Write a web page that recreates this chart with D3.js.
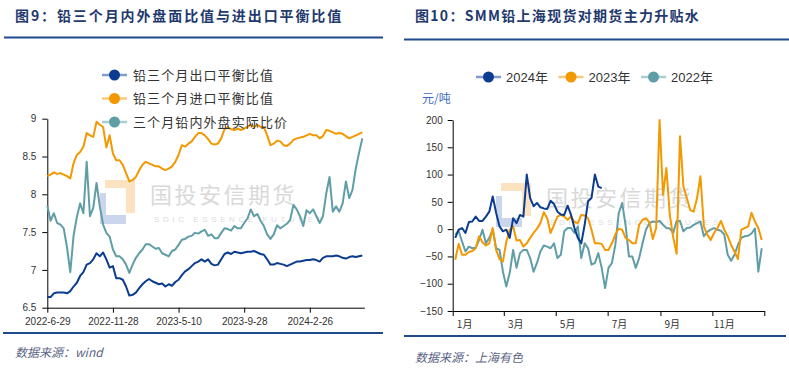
<!DOCTYPE html>
<html lang="zh">
<head>
<meta charset="UTF-8">
<title>铅比值与升贴水</title>
<script src="https://cdn.jsdelivr.net/npm/d3@7.8.5/dist/d3.min.js"></script>
<style>
  body { margin: 0; background: #fff; }
  svg { display: block; }
  .tick text { font-family: "Liberation Sans", Arial, sans-serif; fill: #333; }
</style>
</head>
<body>
<div id="chart"></div>
<script>
// ---------- 图9 数据 ----------
const leftTickLabels = ['2022-6-29', '2022-11-28', '2023-5-10', '2023-9-28', '2024-2-26']
const leftTickIndex = [0, 20, 40, 60, 80]
const exportParity = [
  6.64, 6.64, 6.69, 6.70, 6.70, 6.70, 6.69, 6.72, 6.78, 6.83,
  6.92, 6.97, 7.07, 7.09, 7.14, 7.22, 7.18, 7.23, 7.14, 7.03,
  7.05, 6.89, 6.89, 6.87, 6.78, 6.66, 6.67, 6.70, 6.76, 6.81,
  6.85, 6.88, 6.85, 6.83, 6.81, 6.82, 6.78, 6.81, 6.79, 6.84,
  6.87, 6.93, 6.98, 7.01, 7.05, 7.09, 7.11, 7.14, 7.11, 7.14,
  7.08, 7.06, 7.07, 7.14, 7.21, 7.23, 7.21, 7.24, 7.23, 7.22,
  7.23, 7.24, 7.24, 7.25, 7.23, 7.21, 7.20, 7.14, 7.07, 7.07,
  7.09, 7.08, 7.07, 7.05, 7.07, 7.09, 7.11, 7.11, 7.12, 7.13,
  7.13, 7.14, 7.13, 7.11, 7.16, 7.18, 7.18, 7.18, 7.19, 7.18,
  7.16, 7.15, 7.17, 7.18, 7.17, 7.18, 7.19
]
const importParity = [
  8.24, 8.26, 8.29, 8.27, 8.28, 8.26, 8.24, 8.21, 8.41, 8.52,
  8.56, 8.63, 8.81, 8.78, 8.76, 8.96, 8.92, 8.89, 8.62, 8.78,
  8.54, 8.45, 8.45, 8.39, 8.28, 8.17, 8.19, 8.23, 8.32, 8.39,
  8.43, 8.41, 8.39, 8.37, 8.37, 8.34, 8.32, 8.34, 8.37, 8.43,
  8.52, 8.65, 8.63, 8.67, 8.70, 8.76, 8.81, 8.81, 8.78, 8.73,
  8.67, 8.66, 8.67, 8.74, 8.86, 8.89, 8.86, 8.85, 8.87, 8.85,
  8.87, 8.89, 8.92, 8.89, 8.92, 8.89, 8.89, 8.78, 8.65, 8.67,
  8.71, 8.70, 8.65, 8.64, 8.67, 8.72, 8.74, 8.75, 8.76, 8.78,
  8.80, 8.78, 8.78, 8.74, 8.77, 8.85, 8.84, 8.82, 8.80, 8.81,
  8.80, 8.77, 8.74, 8.76, 8.78, 8.80, 8.82
]
const actualRatio = [
  7.85, 7.65, 7.75, 7.62, 7.60, 7.55, 7.30, 6.97, 7.45, 7.70,
  7.88, 7.75, 8.43, 7.71, 7.82, 8.15, 7.84, 7.60, 7.49, 7.44,
  7.27, 7.18, 7.18, 7.14, 7.07, 6.96, 7.07, 7.16, 7.22, 7.27,
  7.34, 7.34, 7.31, 7.28, 7.29, 7.22, 7.20, 7.18, 7.25, 7.27,
  7.33, 7.40, 7.41, 7.44, 7.45, 7.49, 7.48, 7.51, 7.53, 7.45,
  7.47, 7.42, 7.42, 7.49, 7.55, 7.54, 7.52, 7.58, 7.55, 7.55,
  7.62, 7.68, 7.80, 7.71, 7.74, 7.65, 7.58, 7.47, 7.41, 7.47,
  7.59, 7.55, 7.58, 7.61, 7.66, 7.86, 7.80, 7.71, 7.58, 7.79,
  7.75, 7.80, 7.71, 7.62, 7.71, 8.01, 8.23, 7.77, 7.84, 7.77,
  7.88, 8.17, 7.95, 8.06, 8.34, 8.55, 8.74
]
const leftNames = ['铅三个月出口平衡比值', '铅三个月进口平衡比值', '三个月铅内外盘实际比价']

// ---------- 图10 数据 ----------
const days = [
  '01-04', '01-08', '01-12', '01-16', '01-20', '01-24', '01-28', '02-01', '02-05', '02-09',
  '02-13', '02-17', '02-21', '02-25', '02-29', '03-04', '03-08', '03-12', '03-16', '03-20',
  '03-24', '03-28', '04-01', '04-05', '04-09', '04-13', '04-17', '04-21', '04-25', '04-29',
  '05-03', '05-07', '05-11', '05-15', '05-19', '05-23', '05-27', '05-31', '06-04', '06-08',
  '06-12', '06-16', '06-20', '06-24', '06-28', '07-02', '07-06', '07-10', '07-14', '07-18',
  '07-22', '07-26', '07-30', '08-03', '08-07', '08-11', '08-15', '08-19', '08-23', '08-27',
  '08-31', '09-04', '09-08', '09-12', '09-16', '09-20', '09-24', '09-28', '10-02', '10-06',
  '10-10', '10-14', '10-18', '10-22', '10-26', '10-30', '11-03', '11-07', '11-11', '11-15',
  '11-19', '11-23', '11-27', '12-01', '12-05', '12-09', '12-13', '12-17', '12-21', '12-25',
  '12-29'
]
const basis2024 = [
  -16, -1, 2, -7, 13, 14, 23, 15, 15, 23,
  32, 60, 30, 5, -4, -1, -16, 20, 11, 26,
  23, 100, 57, 42, 48, 40, 38, 37, 52, 46,
  32, 27, 26, 43, 26, 2, -16, -26, 8, 51,
  57, 100, 78, 75
]
const basis2023 = [
  -56, -27, -47, -47, -42, -40, -35, -13, -24, -30,
  -26, 2, -38, -55, -59, -23, -1, 5, -21, -20,
  -32, -26, -16, -7, 1, 11, 31, 20, -7, 8,
  23, 26, 23, 17, 23, 13, 11, 26, 25, 20,
  -1, -26, -26, -27, -38, -38, -26, -10, 1, -1,
  -16, -20, -26, -26, 8, 17, 20, 13, -18, 2,
  200, 63, 112, 26, -15, -45, 170, 78, 57, 35,
  32, 57, 97, 5, -10, -20, -7, 2, 15, -1,
  -13, -29, -41, -55, -1, 2, 5, 30, 14, 2,
  -20
]
const basis2022 = [
  -10, -3, -23, -41, -32, -35, -34, -20, -1, -26,
  -16, -1, -35, -38, -78, -105, -80, -38, -71, -44,
  -38, -38, -53, -78, -62, -41, -30, -32, -35, -26,
  -53, -47, -4, 2, 2, -7, 5, -53, -26, -35,
  -65, -62, -44, -71, -108, -71, -62, -29, 29, 48,
  8, -50, -50, -71, -53, -26, -1, 11, 14, 13,
  15, 8, 2, 1, -7, 15, 15, -4, 2, 3,
  8, 11, 14, -13, -5, -1, 2, -1, -3, -10,
  -47, -58, -47, -29, -16, -13, -12, -8, 1, -78,
  -35
]
const rightNames = ['2024年', '2023年', '2022年']
const monthLabels = ['1月', '3月', '5月', '7月', '9月', '11月']

const blue = '#0b3c8f', orange = '#f39800', teal = '#5f9ea7'
const blueLight = '#7f9ccd', orangeLight = '#f8c97c', tealLight = '#a9cdd2'

const svg = d3.select('#chart').append('svg').attr('width', 789).attr('height', 370)

// ---------- 标题与分隔线 ----------
function header(x, y, text, spacing, lineY, x1, x2) {
  svg.append('text').attr('x', x).attr('y', y).text(text)
    .attr('font-family', '"Noto Sans CJK SC", sans-serif').attr('font-weight', 'bold')
    .attr('font-size', 14).attr('letter-spacing', spacing).attr('fill', '#1f3a6e')
  svg.append('line').attr('x1', x1).attr('x2', x2).attr('y1', lineY).attr('y2', lineY)
    .attr('stroke', '#1f4a8c').attr('stroke-width', 2)
}
header(15, 21, '图9：铅三个月内外盘面比值与进出口平衡比值', 1.9, 37.5, 4, 383)
header(415, 21, '图10：SMM铅上海现货对期货主力升贴水', 1.3, 39.5, 404, 789)

function footer(x, y, text, lineY, x1, x2) {
  svg.append('line').attr('x1', x1).attr('x2', x2).attr('y1', lineY).attr('y2', lineY)
    .attr('stroke', '#1f4a8c').attr('stroke-width', 2)
  svg.append('text').attr('x', x).attr('y', y).text(text)
    .attr('font-family', '"Noto Sans CJK SC", sans-serif').attr('font-style', 'italic')
    .attr('font-size', 12).attr('fill', '#5a6585')
}
footer(15, 357, '数据来源：wind', 333, 3, 383)
footer(415, 362, '数据来源：上海有色', 336, 404, 786)

// ---------- 水印 ----------
function watermark(x, y) {
  const g = svg.append('g').attr('transform', `translate(${x},${y})`)
  g.append('path').attr('d', 'M5,-13 L35,-13 L35,20 L26,20 L26,-5 L5,-5 Z').attr('fill', '#fbe3c2')
  g.append('path').attr('d', 'M0,0 L6,0 L6,22 L26,22 L26,31 L0,31 Z').attr('fill', '#cbd6ed')
  g.append('text').attr('x', 50).attr('y', 10).text('国投安信期货')
    .attr('font-family', '"Noto Sans CJK SC", sans-serif').attr('font-size', 22)
    .attr('letter-spacing', 2.5).attr('fill', '#d9d9d9')
  g.append('text').attr('x', 54).attr('y', 29).text('SDIC ESSENCE FUTURES')
    .attr('font-family', '"Liberation Sans", sans-serif').attr('font-size', 8)
    .attr('letter-spacing', 3.6).attr('fill', '#dcdcdc')
}
watermark(100, 193)
watermark(496, 196)

// ---------- 图9 ----------
const xL = d3.scaleLinear().domain([0, 96.6]).range([47.3, 364.3])
const yL = d3.scaleLinear().domain([6.5, 9]).range([307.7, 118.7])

svg.append('g').attr('transform', 'translate(0,307.7)')
  .call(d3.axisBottom(xL).tickValues(leftTickIndex).tickFormat((d, i) => leftTickLabels[i])
    .tickSize(5).tickSizeOuter(0))
  .call(g => g.selectAll('text').attr('font-size', 10).attr('dy', '0.9em'))
svg.append('g').attr('transform', 'translate(47.3,0)')
  .call(d3.axisLeft(yL).tickValues([6.5, 7, 7.5, 8, 8.5, 9]).tickFormat(d3.format('')).tickSize(5).tickSizeOuter(0))
  .call(g => g.selectAll('text').attr('font-size', 10).attr('dx', '-0.3em'))

const lineL = d3.line().x((d, i) => xL(i)).y(d => yL(d))
;[[actualRatio, teal], [importParity, orange], [exportParity, blue]].forEach(([data, c]) => {
  svg.append('path').datum(data).attr('d', lineL).attr('fill', 'none')
    .attr('stroke', c).attr('stroke-width', 2).attr('stroke-linejoin', 'round')
})

const legL = svg.append('g')
leftNames.forEach((name, i) => {
  const y = 75 + i * 23.5
  const c = [blue, orange, teal][i], lc = [blueLight, orangeLight, tealLight][i]
  legL.append('line').attr('x1', 102).attr('x2', 127).attr('y1', y).attr('y2', y)
    .attr('stroke', lc).attr('stroke-width', 2.5)
  legL.append('circle').attr('cx', 114.5).attr('cy', y).attr('r', 5.5).attr('fill', c)
  legL.append('text').attr('x', 133).attr('y', y + 4.5).text(name)
    .attr('font-family', '"Noto Sans CJK SC", sans-serif').attr('font-size', 13)
    .attr('letter-spacing', 1.1).attr('fill', '#333')
})

// ---------- 图10 ----------
const parseDay = d3.timeParse('%Y-%m-%d')
const dates = days.map(d => parseDay('2024-' + d))
const xR = d3.scaleTime().domain([new Date(2024, 0, 1), new Date(2025, 0, 1)]).range([452.7, 764.3])
const yR = d3.scaleLinear().domain([-150, 200]).range([311, 120])

const monthTicks = [0, 2, 4, 6, 8, 10].map(m => new Date(2024, m, 1)).concat([new Date(2025, 0, 1)])
svg.append('g').attr('transform', 'translate(0,311)')
  .call(d3.axisBottom(xR).tickValues(monthTicks).tickFormat('').tickSize(5).tickSizeOuter(0))
svg.append('g').selectAll('text').data(monthLabels).join('text')
  .attr('x', (d, i) => xR(new Date(2024, i * 2, 15))).attr('y', 328)
  .attr('text-anchor', 'middle').text(d => d)
  .attr('font-family', '"Noto Sans CJK SC", sans-serif').attr('font-size', 10).attr('fill', '#333')
svg.append('g').attr('transform', 'translate(452.7,0)')
  .call(d3.axisLeft(yR).tickValues(d3.range(-150, 201, 50)).tickSize(5).tickSizeOuter(0))
  .call(g => g.selectAll('text').attr('font-size', 10).attr('dx', '-0.2em'))

svg.append('text').attr('x', 422).attr('y', 103).text('元/吨')
  .attr('font-family', '"Noto Sans CJK SC", sans-serif').attr('font-size', 12).attr('fill', '#3e6cc2')

const lineR = d3.line().x((d, i) => xR(dates[i])).y(d => yR(d))
;[[basis2022, teal], [basis2023, orange], [basis2024, blue]].forEach(([data, c]) => {
  svg.append('path').datum(data).attr('d', lineR).attr('fill', 'none')
    .attr('stroke', c).attr('stroke-width', 2).attr('stroke-linejoin', 'round')
})

const legR = svg.append('g')
const legX = [476, 558.5, 641]
rightNames.forEach((name, i) => {
  const x = legX[i], y = 77
  const c = [blue, orange, teal][i], lc = [blueLight, orangeLight, tealLight][i]
  legR.append('line').attr('x1', x).attr('x2', x + 25).attr('y1', y).attr('y2', y)
    .attr('stroke', lc).attr('stroke-width', 2.5)
  legR.append('circle').attr('cx', x + 12.5).attr('cy', y).attr('r', 5.5).attr('fill', c)
  legR.append('text').attr('x', x + 30).attr('y', y + 4.5).text(name)
    .attr('font-family', '"Liberation Sans", "Noto Sans CJK SC", sans-serif').attr('font-size', 13)
    .attr('fill', '#333')
})
</script>
</body>
</html>
